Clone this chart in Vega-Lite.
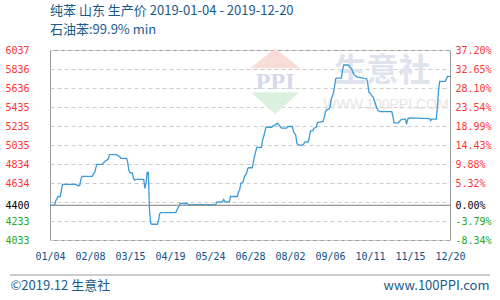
{
  "$schema": "https://vega.github.io/schema/vega-lite/v6.json",
  "width": 400,
  "height": 190,
  "autosize": "none",
  "padding": {"left": 50, "top": 50, "right": 50, "bottom": 60},
  "background": "white",
  "title": {
    "text": ["纯苯 山东 生产价 2019-01-04 - 2019-12-20", "石油苯:99.9% min"],
    "anchor": "start",
    "frame": "group",
    "font": "Noto Sans CJK SC",
    "fontSize": 13,
    "fontWeight": "normal",
    "color": "#1a5a8a",
    "lineHeight": 19,
    "offset": 8
  },
  "config": {
    "view": {"stroke": "#999", "strokeWidth": 1},
    "axis": {"labelFlush": false, "labelBound": false, "labelOverlap": false, "ticks": false, "domain": false},
    "axisX": {
      "labelFont": "DejaVu Sans Mono", "labelFontSize": 10, "labelColor": "#0e5184", "labelPadding": 11,
      "grid": true, "gridDash": [4, 3], "gridColor": "#cccccc",
      "titleAnchor": "start", "titleAlign": "left", "titleX": -40, "titleY": 45, "titleBaseline": "middle",
      "titleFont": "Noto Sans CJK SC", "titleFontSize": 13, "titleFontWeight": "normal", "titleColor": "#1a5a8a"
    }
  },
  "data": {
    "values": [
      {"date": "2019-01-04", "price": 4400}, {"date": "2019-01-08", "price": 4400}, {"date": "2019-01-09", "price": 4446},
      {"date": "2019-01-10", "price": 4467}, {"date": "2019-01-11", "price": 4492}, {"date": "2019-01-13", "price": 4492},
      {"date": "2019-01-14", "price": 4562}, {"date": "2019-01-15", "price": 4619}, {"date": "2019-01-27", "price": 4619},
      {"date": "2019-01-28", "price": 4608}, {"date": "2019-01-30", "price": 4608}, {"date": "2019-01-31", "price": 4672},
      {"date": "2019-02-01", "price": 4704}, {"date": "2019-02-10", "price": 4704}, {"date": "2019-02-11", "price": 4735},
      {"date": "2019-02-12", "price": 4742}, {"date": "2019-02-13", "price": 4788}, {"date": "2019-02-14", "price": 4831},
      {"date": "2019-02-19", "price": 4831}, {"date": "2019-02-20", "price": 4848}, {"date": "2019-02-21", "price": 4862},
      {"date": "2019-02-24", "price": 4887}, {"date": "2019-02-25", "price": 4933}, {"date": "2019-03-03", "price": 4933},
      {"date": "2019-03-04", "price": 4926}, {"date": "2019-03-06", "price": 4912}, {"date": "2019-03-07", "price": 4894},
      {"date": "2019-03-12", "price": 4894}, {"date": "2019-03-13", "price": 4852}, {"date": "2019-03-14", "price": 4767},
      {"date": "2019-03-15", "price": 4742}, {"date": "2019-03-17", "price": 4742}, {"date": "2019-03-18", "price": 4689},
      {"date": "2019-03-19", "price": 4665}, {"date": "2019-03-20", "price": 4672}, {"date": "2019-03-27", "price": 4672},
      {"date": "2019-03-28", "price": 4577}, {"date": "2019-03-29", "price": 4629}, {"date": "2019-03-30", "price": 4746},
      {"date": "2019-03-31", "price": 4746}, {"date": "2019-04-01", "price": 4365}, {"date": "2019-04-02", "price": 4213},
      {"date": "2019-04-03", "price": 4199}, {"date": "2019-04-08", "price": 4199}, {"date": "2019-04-09", "price": 4241},
      {"date": "2019-04-10", "price": 4312}, {"date": "2019-04-11", "price": 4322}, {"date": "2019-04-24", "price": 4322},
      {"date": "2019-04-25", "price": 4347}, {"date": "2019-04-26", "price": 4372}, {"date": "2019-04-28", "price": 4418},
      {"date": "2019-05-04", "price": 4418}, {"date": "2019-05-05", "price": 4407}, {"date": "2019-05-29", "price": 4407},
      {"date": "2019-05-30", "price": 4435}, {"date": "2019-06-04", "price": 4435}, {"date": "2019-06-05", "price": 4460},
      {"date": "2019-06-06", "price": 4435}, {"date": "2019-06-10", "price": 4435}, {"date": "2019-06-11", "price": 4492},
      {"date": "2019-06-17", "price": 4492}, {"date": "2019-06-18", "price": 4541}, {"date": "2019-06-19", "price": 4566},
      {"date": "2019-06-20", "price": 4629}, {"date": "2019-06-22", "price": 4647}, {"date": "2019-06-23", "price": 4700},
      {"date": "2019-06-25", "price": 4735}, {"date": "2019-06-26", "price": 4788}, {"date": "2019-06-27", "price": 4795},
      {"date": "2019-06-30", "price": 4795}, {"date": "2019-07-01", "price": 4859}, {"date": "2019-07-02", "price": 4919},
      {"date": "2019-07-03", "price": 4965}, {"date": "2019-07-04", "price": 5011}, {"date": "2019-07-08", "price": 5011},
      {"date": "2019-07-09", "price": 5088}, {"date": "2019-07-10", "price": 5124}, {"date": "2019-07-11", "price": 5177},
      {"date": "2019-07-12", "price": 5222}, {"date": "2019-07-17", "price": 5222}, {"date": "2019-07-18", "price": 5237},
      {"date": "2019-07-19", "price": 5240}, {"date": "2019-07-22", "price": 5265}, {"date": "2019-07-24", "price": 5240},
      {"date": "2019-07-25", "price": 5219}, {"date": "2019-07-26", "price": 5212}, {"date": "2019-07-30", "price": 5212},
      {"date": "2019-07-31", "price": 5230}, {"date": "2019-08-04", "price": 5230}, {"date": "2019-08-05", "price": 5177},
      {"date": "2019-08-07", "price": 5141}, {"date": "2019-08-08", "price": 5053}, {"date": "2019-08-09", "price": 5039},
      {"date": "2019-08-12", "price": 5032}, {"date": "2019-08-14", "price": 5046}, {"date": "2019-08-15", "price": 5067},
      {"date": "2019-08-18", "price": 5067}, {"date": "2019-08-19", "price": 5124}, {"date": "2019-08-20", "price": 5184},
      {"date": "2019-08-22", "price": 5187}, {"date": "2019-08-23", "price": 5212}, {"date": "2019-08-25", "price": 5222},
      {"date": "2019-08-26", "price": 5272}, {"date": "2019-08-31", "price": 5283}, {"date": "2019-09-01", "price": 5328},
      {"date": "2019-09-02", "price": 5388}, {"date": "2019-09-03", "price": 5406}, {"date": "2019-09-05", "price": 5413},
      {"date": "2019-09-06", "price": 5431}, {"date": "2019-09-07", "price": 5512}, {"date": "2019-09-09", "price": 5583},
      {"date": "2019-09-10", "price": 5653}, {"date": "2019-09-11", "price": 5734}, {"date": "2019-09-12", "price": 5741},
      {"date": "2019-09-16", "price": 5741}, {"date": "2019-09-17", "price": 5830}, {"date": "2019-09-18", "price": 5879},
      {"date": "2019-09-22", "price": 5879}, {"date": "2019-09-23", "price": 5865}, {"date": "2019-09-25", "price": 5837},
      {"date": "2019-09-26", "price": 5801}, {"date": "2019-09-27", "price": 5777}, {"date": "2019-09-29", "price": 5759},
      {"date": "2019-09-30", "price": 5752}, {"date": "2019-10-08", "price": 5734}, {"date": "2019-10-09", "price": 5688},
      {"date": "2019-10-10", "price": 5593}, {"date": "2019-10-11", "price": 5583}, {"date": "2019-10-12", "price": 5565},
      {"date": "2019-10-13", "price": 5547}, {"date": "2019-10-14", "price": 5540}, {"date": "2019-10-15", "price": 5494},
      {"date": "2019-10-16", "price": 5459}, {"date": "2019-10-17", "price": 5424}, {"date": "2019-10-18", "price": 5399},
      {"date": "2019-10-20", "price": 5388}, {"date": "2019-10-30", "price": 5388}, {"date": "2019-10-31", "price": 5343},
      {"date": "2019-11-01", "price": 5268}, {"date": "2019-11-05", "price": 5268}, {"date": "2019-11-06", "price": 5286},
      {"date": "2019-11-07", "price": 5300}, {"date": "2019-11-09", "price": 5307}, {"date": "2019-11-11", "price": 5307},
      {"date": "2019-11-12", "price": 5254}, {"date": "2019-11-13", "price": 5307}, {"date": "2019-11-14", "price": 5318},
      {"date": "2019-11-15", "price": 5321}, {"date": "2019-12-02", "price": 5314}, {"date": "2019-12-03", "price": 5293},
      {"date": "2019-12-04", "price": 5307}, {"date": "2019-12-08", "price": 5307}, {"date": "2019-12-09", "price": 5441},
      {"date": "2019-12-10", "price": 5618}, {"date": "2019-12-11", "price": 5706}, {"date": "2019-12-16", "price": 5706},
      {"date": "2019-12-17", "price": 5741}, {"date": "2019-12-18", "price": 5759}, {"date": "2019-12-20", "price": 5759}
    ]
  },
  "layer": [
    {
      "data": {"values": [{}]},
      "mark": {"type": "text", "font": "Noto Sans CJK SC", "fontSize": 32, "fontWeight": "bold", "letterSpacing": 10, "color": "#dfe3ee", "align": "center", "baseline": "middle"},
      "encoding": {
        "x": {"datum": {"year": 2019, "month": 10, "date": 22, "utc": true}, "type": "temporal", "axis": null},
        "y": {"datum": 5812, "type": "quantitative", "axis": null},
        "text": {"value": "生意社"}
      }
    },
    {
      "data": {"values": [{}]},
      "mark": {"type": "text", "font": "Liberation Sans", "fontSize": 14, "letterSpacing": 0.5, "color": "#e6e6e6", "align": "center", "baseline": "middle"},
      "encoding": {
        "x": {"datum": {"year": 2019, "month": 10, "date": 25, "utc": true}, "type": "temporal", "axis": null},
        "y": {"datum": 5452, "type": "quantitative", "axis": null},
        "text": {"value": "WWW.100PPI.COM"}
      }
    },
    {
      "data": {"values": [{}]},
      "mark": {"type": "point", "filled": true, "size": 4096, "shape": "M-0.78,-0.44L0,-1.06L0.78,-0.44Z", "color": "#f8dcd6", "opacity": 1},
      "encoding": {
        "x": {"datum": {"year": 2019, "month": 7, "date": 20, "utc": true}, "type": "temporal", "axis": null},
        "y": {"datum": 5696, "type": "quantitative", "axis": null}
      }
    },
    {
      "data": {"values": [{}]},
      "mark": {"type": "point", "filled": true, "size": 4096, "shape": "M-0.75,0.31L0,1L0.75,0.31Z", "color": "#dbf0de", "opacity": 1},
      "encoding": {
        "x": {"datum": {"year": 2019, "month": 7, "date": 20, "utc": true}, "type": "temporal", "axis": null},
        "y": {"datum": 5696, "type": "quantitative", "axis": null}
      }
    },
    {
      "data": {"values": [{}]},
      "mark": {"type": "text", "font": "Liberation Serif", "fontSize": 24, "fontWeight": "bold", "letterSpacing": 5, "color": "#d3d9ea", "align": "center", "baseline": "middle"},
      "encoding": {
        "x": {"datum": {"year": 2019, "month": 7, "date": 20, "utc": true}, "type": "temporal", "axis": null},
        "y": {"datum": 5696, "type": "quantitative", "axis": null},
        "text": {"value": "PPI"}
      }
    },
    {
      "mark": {"type": "line", "color": "#3d9ad8", "strokeWidth": 1.3},
      "encoding": {
        "x": {
          "field": "date",
          "type": "temporal",
          "scale": {"type": "utc", "domain": [1546560000000, 1576800000000]},
          "axis": {"values": [1546560000000, 1549584000000, 1552608000000, 1555632000000, 1558656000000, 1561680000000, 1564704000000, 1567728000000, 1570752000000, 1573776000000, 1576800000000], "labelExpr": "utcFormat(datum.value, '%m/%d')", "title": "©2019.12 生意社"}
        },
        "y": {
          "field": "price",
          "type": "quantitative",
          "scale": {"domain": [4033, 6037], "nice": false, "zero": false},
          "axis": {
            "orient": "left",
            "values": [4033, 4233.4, 4400, 4433.8, 4634.2, 4834.6, 5035, 5235.4, 5435.8, 5636.2, 5836.6, 6037],
            "labelExpr": "datum.value == 4433.8 ? '' : toString(floor(datum.value))",
            "labelColor": {"condition": [{"test": "datum.value > 4401", "value": "#ff3333"}, {"test": "datum.value < 4399", "value": "#22aa22"}], "value": "#000000"},
            "labelAlign": "left",
            "labelPadding": 45,
            "labelFont": "DejaVu Sans Mono",
            "labelFontSize": 10,
            "grid": true,
            "gridDash": {"condition": {"test": "datum.value == 4400", "value": []}, "value": [4, 3]},
            "gridColor": {"condition": {"test": "datum.value == 4400", "value": "#999999"}, "value": "#cccccc"},
            "title": null
          }
        }
      }
    },
    {
      "data": {"values": [{}]},
      "mark": {"type": "rule", "color": "#999999", "strokeWidth": 1, "clip": false},
      "encoding": {
        "x": {"datum": 1543536000000, "type": "temporal", "axis": null},
        "x2": {"datum": 1579824000000},
        "y": {"datum": 3663.8, "type": "quantitative", "axis": null}
      }
    },
    {
      "data": {"values": [{}]},
      "mark": {"type": "rule", "color": "#999999", "strokeWidth": 1},
      "encoding": {
        "y": {
          "datum": 4400,
          "type": "quantitative",
          "axis": {
            "orient": "right",
            "values": [4033, 4233.4, 4400, 4634.2, 4834.6, 5035, 5235.4, 5435.8, 5636.2, 5836.6, 6037],
            "labelExpr": "replace(format((datum.value - 4400) / 4400, '.2%'), '−', '-')",
            "labelColor": {"condition": [{"test": "datum.value > 4401", "value": "#ff3333"}, {"test": "datum.value < 4399", "value": "#22aa22"}], "value": "#000000"},
            "labelPadding": 5,
            "labelFont": "DejaVu Sans Mono",
            "labelFontSize": 10,
            "grid": false,
            "title": "www.100PPI.com",
            "titleAngle": 0,
            "titleX": 39,
            "titleY": 235,
            "titleAlign": "right",
            "titleBaseline": "middle",
            "titleFont": "Noto Sans CJK SC",
            "titleFontSize": 13,
            "titleFontWeight": "normal",
            "titleColor": "#1a5a8a"
          }
        }
      }
    }
  ],
  "resolve": {"axis": {"y": "independent", "x": "independent"}}
}
